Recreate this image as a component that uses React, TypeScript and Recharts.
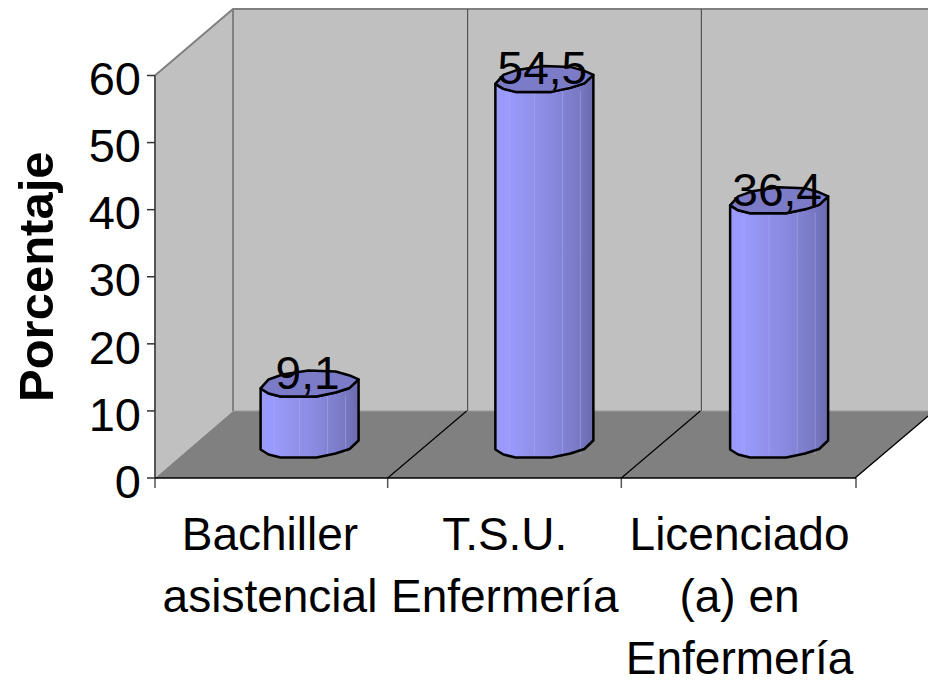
import { BarChart, Bar, XAxis, YAxis, LabelList } from "recharts";

const categories = [
  ["Bachiller", "asistencial"],
  ["T.S.U.", "Enfermería"],
  ["Licenciado", "(a) en", "Enfermería"],
];
const porcentaje = [9.1, 54.5, 36.4];
const yTicks = [0, 10, 20, 30, 40, 50, 60];

const data = categories.map((lines, i) => ({ name: lines.join(" "), value: porcentaje[i] }));

const FONT = "'Liberation Sans', Arial, sans-serif";
const WIDTH = 928;
const HEIGHT = 683;
const LEFT = 155;
const RIGHT = 856;
const TOP = 75.5;
const BOTTOM = 478;
// shift of the back wall, the bars sit half way
const DEPTH_X = 78;
const DEPTH_Y = 67;

// outline of the tilted ellipse that caps each cylinder, relative to its centre
const capBack = [[-49, 5], [-41, -4], [-27, -9], [-1, -13], [26, -12], [40, -8], [49, -4]];
const capFront = [[49, -4], [40, 4.5], [26, 9], [7, 13], [-29, 13], [-41, 10], [-49, 5]];
// lighter seams between the facets of the cylinder
const seams = [-35, -10, 18, 36];

const pts = (list: number[][], cx: number, cy: number) =>
  list.map(([a, b]) => `${cx + a},${cy + b}`).join(" L");

function Walls() {
  const bx = LEFT + DEPTH_X;
  const tx = BOTTOM - DEPTH_Y;
  const topBack = TOP - DEPTH_Y + 0.5;
  const step = (RIGHT - LEFT) / 3;
  return (
    <g>
      <polygon points={`${LEFT},${TOP} ${bx},${topBack} ${bx},${tx} ${LEFT},${BOTTOM}`} fill="#c0c0c0" />
      <rect x={bx} y={topBack} width={WIDTH - bx} height={tx - topBack} fill="#c0c0c0" />
      <polygon points={`${LEFT},${BOTTOM} ${RIGHT},${BOTTOM} ${RIGHT + DEPTH_X},${tx} ${bx},${tx}`} fill="#808080" />
      <path d={`M${LEFT},${TOP} L${bx},${topBack} L${WIDTH},${topBack} M${bx},${topBack} L${bx},${tx}`} stroke="#808080" strokeWidth={2} fill="none" />
      <line x1={bx} y1={tx} x2={WIDTH} y2={tx} stroke="#999999" strokeWidth={1} />
      {[1, 2].map((k) => (
        <line key={k} x1={bx + step * k + 1} y1={topBack} x2={bx + step * k + 1} y2={tx} stroke="#404040" strokeWidth={1} />
      ))}
      {[1, 2, 3].map((k) => (
        <line key={k} x1={LEFT + step * k - 1} y1={BOTTOM} x2={LEFT + step * k + DEPTH_X} y2={tx} stroke="#000000" strokeWidth={1.2} />
      ))}
      {[0, 1, 2, 3].map((k) => (
        <line key={k} x1={LEFT + step * k - (k % 3 ? 1 : 0)} y1={BOTTOM} x2={LEFT + step * k - (k % 3 ? 1 : 0)} y2={BOTTOM + 10} stroke="#555555" strokeWidth={1.5} />
      ))}
      <line x1={LEFT} y1={TOP} x2={LEFT} y2={BOTTOM} stroke="#555555" strokeWidth={2} />
      <line x1={LEFT} y1={BOTTOM} x2={RIGHT} y2={BOTTOM} stroke="#000000" strokeWidth={1.5} />
    </g>
  );
}

function Cylinder(props: any) {
  const { x, y, width, height } = props;
  const cx = x + width / 2 + DEPTH_X / 2 + 1;
  const top = y - DEPTH_Y / 2;
  const base = top + height;
  const front = capFront.slice().reverse();
  const side = `M${pts(front, cx, base)} L${pts(capFront, cx, top)} Z`;
  return (
    <g>
      <path d={side} fill="url(#cyl)" stroke="none" />
      {seams.map((s) => (
        <line key={s} x1={cx + s} y1={top + 12} x2={cx + s} y2={base + 10} stroke="#b4b4f0" strokeOpacity={0.45} strokeWidth={1} />
      ))}
      <path d={side} fill="none" stroke="#000000" strokeWidth={2.5} strokeLinejoin="round" />
      <path d={`M${pts(capBack, cx, top)} L${pts(capFront, cx, top)} Z`} fill="#7b7bc8" stroke="#000000" strokeWidth={2.5} strokeLinejoin="round" />
    </g>
  );
}

function ValueLabel(props: any) {
  const { x, y, width, value } = props;
  return (
    <text x={x + width / 2 + DEPTH_X / 2 - 1} y={y - 28} textAnchor="middle" fontFamily={FONT} fontSize={46} fill="#000000">
      {String(value).replace(".", ",")}
    </text>
  );
}

function CategoryTick(props: any) {
  const { x, index } = props;
  return (
    <text textAnchor="middle" fontFamily={FONT} fontSize={46} fill="#000000">
      {categories[index].map((line, i) => (
        <tspan key={i} x={x} y={550 + i * 62}>
          {line}
        </tspan>
      ))}
    </text>
  );
}

export default function App() {
  return (
    <div style={{ position: "absolute", left: 0, top: 0, width: WIDTH, height: HEIGHT, background: "#ffffff", overflow: "hidden" }}>
      <BarChart
        width={WIDTH}
        height={HEIGHT}
        data={data}
        margin={{ top: TOP, right: WIDTH - RIGHT, bottom: 0, left: 0 }}
      >
        <defs>
          <linearGradient id="cyl" x1="0" y1="0" x2="1" y2="0">
            <stop offset="0" stopColor="#9a9af8" />
            <stop offset="0.12" stopColor="#9a9aff" />
            <stop offset="0.3" stopColor="#9494f0" />
            <stop offset="0.5" stopColor="#8c8ce4" />
            <stop offset="0.7" stopColor="#8282d4" />
            <stop offset="0.88" stopColor="#7676c0" />
            <stop offset="1" stopColor="#6a6aac" />
          </linearGradient>
        </defs>
        <Walls />
        <XAxis
          dataKey="name"
          axisLine={false}
          tickLine={false}
          interval={0}
          height={HEIGHT - BOTTOM}
          padding={{ left: -2.4, right: -0.9 }}
          tick={<CategoryTick />}
        />
        <YAxis
          width={LEFT}
          domain={[0, 60]}
          ticks={yTicks}
          axisLine={false}
          tickSize={8}
          tickMargin={6}
          tickLine={{ stroke: "#333333", strokeWidth: 1.5 }}
          tick={{ fontFamily: FONT, fontSize: 47, fill: "#000000", dy: 3 }}
          label={{
            value: "Porcentaje",
            angle: -90,
            position: "insideLeft",
            dx: 31,
            dy: 0,
            style: { fontFamily: FONT, fontSize: 49, fontWeight: "bold", fill: "#000000", textAnchor: "middle" },
          }}
        />
        <Bar dataKey="value" barSize={98} isAnimationActive={false} shape={<Cylinder />}>
          <LabelList dataKey="value" content={<ValueLabel />} />
        </Bar>
      </BarChart>
    </div>
  );
}
